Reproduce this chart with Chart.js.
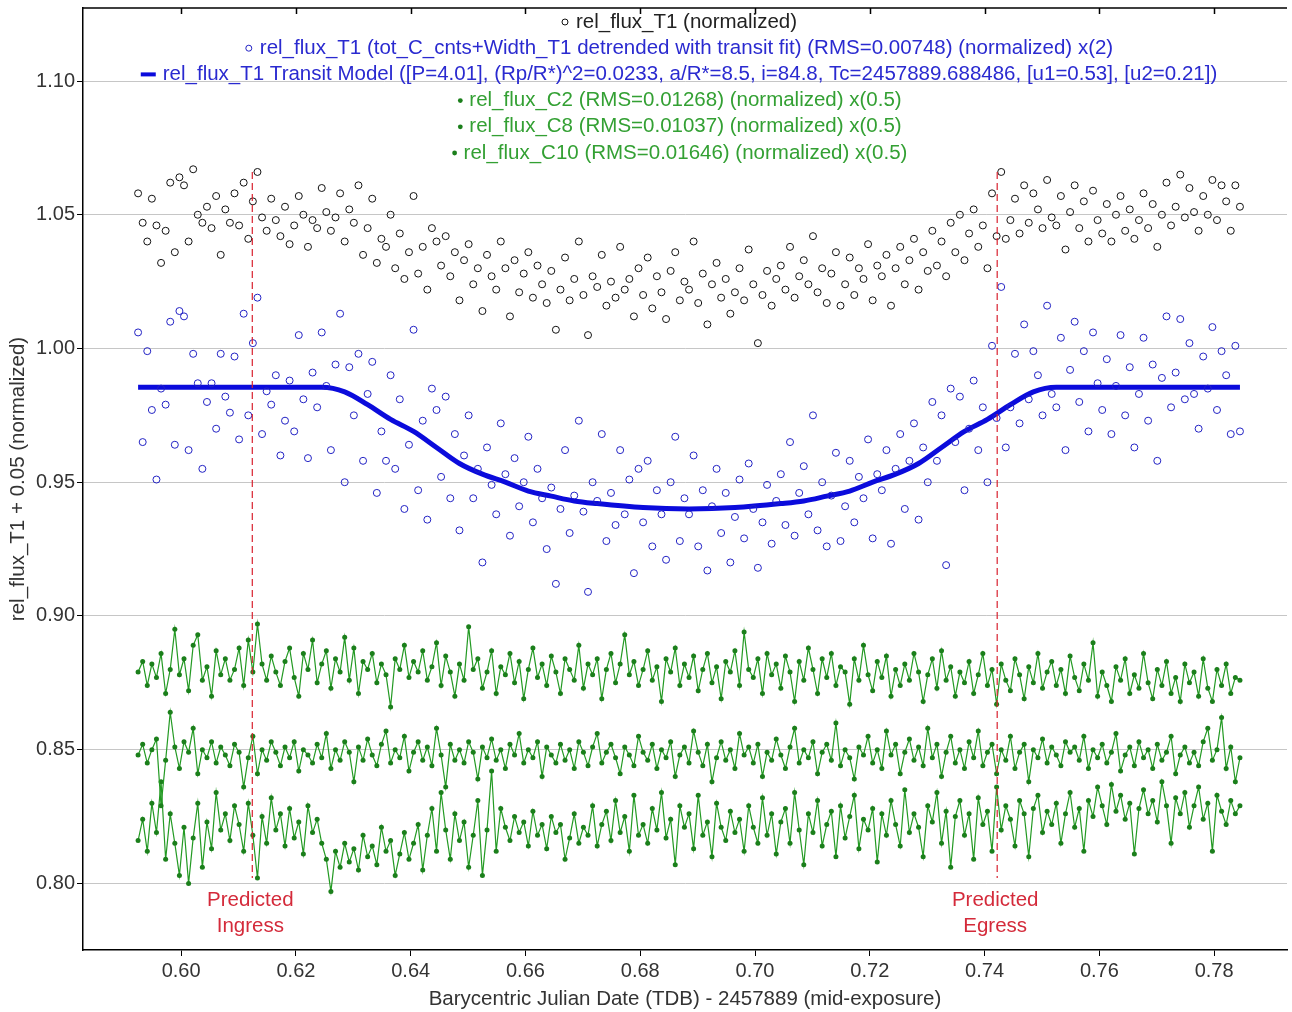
<!DOCTYPE html>
<html>
<head>
<meta charset="utf-8">
<script src="https://cdn.jsdelivr.net/npm/chart.js@4.4.0/dist/chart.umd.min.js"></script>
<style>
    body { margin: 0; background: #fff; }
    canvas { display: block; }
</style>
<title>rel_flux_T1 light curve</title>
</head>
<body>
<canvas id="lightCurve" width="1292" height="1012"></canvas>
<script>
// exposure cadence (days) and first mid-exposure time, BJD - 2457889
const T_START = 0.5925;
const CADENCE = 0.0008;

// rel_flux_T1 (normalized)
const fluxT1 = [
    1.058, 1.047, 1.040, 1.056, 1.046, 1.032, 1.044, 1.062, 1.036, 1.064,
    1.061, 1.040, 1.067, 1.050, 1.047, 1.053, 1.045, 1.057, 1.035, 1.052,
    1.047, 1.058, 1.046, 1.062, 1.041, 1.055, 1.066, 1.049, 1.044, 1.056,
    1.048, 1.042, 1.053, 1.039, 1.046, 1.057, 1.050, 1.038, 1.048, 1.045,
    1.060, 1.051, 1.044, 1.049, 1.058, 1.040, 1.052, 1.047, 1.061, 1.035,
    1.045, 1.056, 1.032, 1.041, 1.038, 1.050, 1.030, 1.043, 1.026, 1.036,
    1.057, 1.028, 1.038, 1.022, 1.045, 1.040, 1.031, 1.042, 1.027, 1.036,
    1.018, 1.033, 1.039, 1.024, 1.030, 1.014, 1.035, 1.027, 1.022, 1.040,
    1.030, 1.012, 1.033, 1.021, 1.028, 1.036, 1.019, 1.031, 1.024, 1.017,
    1.029, 1.007, 1.022, 1.034, 1.018, 1.026, 1.040, 1.020, 1.005, 1.027,
    1.023, 1.035, 1.016, 1.025, 1.019, 1.038, 1.022, 1.026, 1.012, 1.030,
    1.020, 1.034, 1.015, 1.027, 1.021, 1.011, 1.029, 1.036, 1.018, 1.025,
    1.022, 1.040, 1.017, 1.028, 1.009, 1.024, 1.032, 1.019, 1.026, 1.013,
    1.021, 1.030, 1.018, 1.037, 1.024, 1.002, 1.020, 1.029, 1.016, 1.026,
    1.031, 1.022, 1.038, 1.019, 1.027, 1.033, 1.024, 1.042, 1.021, 1.030,
    1.017, 1.028, 1.036, 1.016, 1.024, 1.034, 1.020, 1.030, 1.026, 1.039,
    1.018, 1.031, 1.027, 1.035, 1.016, 1.030, 1.038, 1.024, 1.033, 1.041,
    1.022, 1.036, 1.029, 1.044, 1.031, 1.040, 1.027, 1.047, 1.036, 1.050,
    1.033, 1.043, 1.052, 1.038, 1.046, 1.030, 1.058, 1.042, 1.066, 1.041,
    1.048, 1.056, 1.043, 1.061, 1.047, 1.058, 1.052, 1.045, 1.063, 1.049,
    1.046, 1.057, 1.037, 1.051, 1.061, 1.045, 1.055, 1.040, 1.059, 1.048,
    1.043, 1.054, 1.040, 1.050, 1.057, 1.044, 1.052, 1.041, 1.048, 1.058,
    1.045, 1.054, 1.038, 1.050, 1.062, 1.046, 1.053, 1.065, 1.049, 1.060,
    1.051, 1.044, 1.057, 1.050, 1.063, 1.048, 1.061, 1.055, 1.044, 1.061,
    1.053
];

// rel_flux_T1 detrended, x(2)
const fluxT1Detrended = [
    1.006, 0.965, 0.999, 0.977, 0.951, 0.985, 0.979, 1.010, 0.964, 1.014,
    1.012, 0.962, 0.998, 0.987, 0.955, 0.980, 0.987, 0.970, 0.998, 0.982,
    0.976, 0.997, 0.966, 1.013, 0.975, 1.002, 1.019, 0.968, 0.984, 0.979,
    0.990, 0.960, 0.973, 0.988, 0.969, 1.005, 0.981, 0.959, 0.991, 0.978,
    1.006, 0.986, 0.962, 0.994, 1.013, 0.950, 0.993, 0.975, 0.998, 0.958,
    0.983, 0.995, 0.946, 0.969, 0.958, 0.990, 0.955, 0.981, 0.940, 0.964,
    1.007, 0.947, 0.973, 0.936, 0.985, 0.977, 0.952, 0.982, 0.944, 0.968,
    0.932, 0.960, 0.975, 0.944, 0.955, 0.920, 0.963, 0.949, 0.938, 0.972,
    0.953, 0.930, 0.959, 0.941, 0.950, 0.967, 0.935, 0.955, 0.944, 0.925,
    0.948, 0.912, 0.940, 0.962, 0.931, 0.945, 0.973, 0.939, 0.909, 0.950,
    0.943, 0.968, 0.928, 0.946, 0.934, 0.962, 0.938, 0.951, 0.916, 0.955,
    0.935, 0.958, 0.926, 0.947, 0.938, 0.921, 0.950, 0.967, 0.928, 0.944,
    0.938, 0.960, 0.926, 0.947, 0.917, 0.941, 0.955, 0.931, 0.946, 0.920,
    0.937, 0.951, 0.929, 0.957, 0.940, 0.918, 0.935, 0.949, 0.927, 0.943,
    0.953, 0.934, 0.965, 0.930, 0.946, 0.956, 0.938, 0.975, 0.932, 0.950,
    0.926, 0.945, 0.961, 0.928, 0.941, 0.958, 0.935, 0.952, 0.944, 0.966,
    0.929, 0.953, 0.947, 0.962, 0.927, 0.955, 0.968, 0.940, 0.958, 0.972,
    0.936, 0.963, 0.950, 0.980, 0.958, 0.975, 0.919, 0.985, 0.965, 0.982,
    0.947, 0.970, 0.988, 0.962, 0.978, 0.950, 1.001, 0.974, 1.023, 0.963,
    0.978, 0.998, 0.972, 1.009, 0.981, 0.999, 0.990, 0.975, 1.016, 0.983,
    0.978, 1.004, 0.962, 0.992, 1.010, 0.980, 0.999, 0.969, 1.006, 0.987,
    0.977, 0.996, 0.968, 0.986, 1.005, 0.975, 0.993, 0.963, 0.983, 1.004,
    0.973, 0.994, 0.958, 0.989, 1.012, 0.978, 0.991, 1.011, 0.981, 1.002,
    0.983, 0.970, 0.997, 0.985, 1.008, 0.977, 0.999, 0.990, 0.968, 1.001,
    0.969
];

// transit model
const modelTimes = [
    0.5925, 0.6245, 0.6285, 0.6325, 0.6365, 0.6405, 0.6445, 0.6485, 0.6525, 0.6565,
    0.6605, 0.6645, 0.6685, 0.6725, 0.6805, 0.6885, 0.6965, 0.7045, 0.7085, 0.7125,
    0.7165, 0.7205, 0.7245, 0.7285, 0.7325, 0.7365, 0.7405, 0.7445, 0.7485, 0.7525,
    0.7845
];
const modelFlux = [
    0.9855, 0.9855, 0.9838, 0.979, 0.9735, 0.969, 0.963, 0.957, 0.953, 0.950,
    0.9467, 0.9448, 0.943, 0.942, 0.9405, 0.940, 0.9405, 0.942, 0.943, 0.9448,
    0.9467, 0.950, 0.953, 0.957, 0.963, 0.969, 0.9735, 0.979, 0.9838, 0.9855,
    0.9855
];

// comparison stars, x(0.5)
const fluxC2 = [
    0.879, 0.883, 0.874, 0.882, 0.877, 0.886, 0.871, 0.880, 0.895, 0.878,
    0.884, 0.872, 0.889, 0.893, 0.876, 0.881, 0.870, 0.887, 0.878, 0.884,
    0.876, 0.880, 0.888, 0.874, 0.891, 0.879, 0.897, 0.882, 0.876, 0.885,
    0.879, 0.874, 0.883, 0.888, 0.877, 0.870, 0.886, 0.880, 0.891, 0.875,
    0.882, 0.887, 0.873, 0.884, 0.879, 0.892, 0.876, 0.888, 0.871, 0.883,
    0.880, 0.886, 0.875, 0.882, 0.878, 0.866, 0.884, 0.880, 0.889, 0.877,
    0.883, 0.879, 0.887, 0.876, 0.881, 0.890, 0.874, 0.885, 0.879, 0.870,
    0.882, 0.876, 0.896, 0.880, 0.884, 0.873, 0.879, 0.887, 0.871, 0.881,
    0.878, 0.886, 0.875, 0.883, 0.869, 0.880, 0.888, 0.877, 0.882, 0.874,
    0.885, 0.879, 0.871, 0.884, 0.880, 0.876, 0.889, 0.873, 0.882, 0.878,
    0.884, 0.869, 0.880, 0.886, 0.875, 0.882, 0.893, 0.878, 0.883, 0.874,
    0.880, 0.887, 0.876, 0.881, 0.868, 0.884, 0.879, 0.888, 0.874, 0.882,
    0.877, 0.885, 0.872, 0.880, 0.886, 0.875, 0.881, 0.869, 0.883, 0.879,
    0.887, 0.874, 0.894, 0.880, 0.877, 0.884, 0.871, 0.886, 0.878, 0.882,
    0.873, 0.885, 0.879, 0.868, 0.883, 0.876, 0.888, 0.880, 0.871, 0.884,
    0.877, 0.886, 0.874, 0.881, 0.879, 0.867, 0.884, 0.876, 0.889, 0.878,
    0.872, 0.883, 0.877, 0.885, 0.870, 0.880, 0.874, 0.882, 0.876, 0.886,
    0.879, 0.868, 0.878, 0.884, 0.873, 0.887, 0.876, 0.881, 0.870, 0.879,
    0.875, 0.883, 0.871, 0.878, 0.886, 0.874, 0.880, 0.867, 0.882, 0.876,
    0.872, 0.884, 0.878, 0.869, 0.881, 0.875, 0.886, 0.873, 0.879, 0.883,
    0.874, 0.880, 0.871, 0.885, 0.877, 0.872, 0.882, 0.876, 0.890, 0.870,
    0.879, 0.874, 0.868, 0.881, 0.876, 0.884, 0.871, 0.878, 0.873, 0.886,
    0.875, 0.869, 0.880, 0.874, 0.883, 0.871, 0.877, 0.868, 0.882, 0.875,
    0.879, 0.870, 0.884, 0.873, 0.868, 0.880, 0.874, 0.882, 0.871, 0.877,
    0.876
];
const fluxC8 = [
    0.848, 0.852, 0.845, 0.850, 0.854, 0.829, 0.846, 0.864, 0.851, 0.843,
    0.853, 0.849, 0.858, 0.841, 0.850, 0.847, 0.853, 0.845, 0.851, 0.848,
    0.844, 0.852, 0.849, 0.836, 0.847, 0.855, 0.841, 0.850, 0.846, 0.853,
    0.849, 0.844, 0.851, 0.847, 0.853, 0.842, 0.850, 0.848, 0.845, 0.852,
    0.847, 0.856, 0.843, 0.850, 0.846, 0.853, 0.849, 0.838, 0.851, 0.846,
    0.854, 0.848, 0.844, 0.852, 0.857, 0.845, 0.850, 0.847, 0.855, 0.842,
    0.849, 0.853, 0.846, 0.851, 0.844, 0.858, 0.848, 0.836, 0.852, 0.846,
    0.850, 0.845, 0.853, 0.849, 0.839, 0.851, 0.847, 0.854, 0.846, 0.850,
    0.843, 0.852, 0.848, 0.856, 0.845, 0.850, 0.847, 0.853, 0.840, 0.851,
    0.848, 0.845, 0.852, 0.846, 0.850, 0.843, 0.853, 0.849, 0.844, 0.851,
    0.856, 0.845, 0.849, 0.852, 0.847, 0.841, 0.851, 0.848, 0.844, 0.855,
    0.849, 0.846, 0.852, 0.843, 0.850, 0.847, 0.853, 0.840, 0.848, 0.851,
    0.845, 0.857, 0.849, 0.844, 0.852, 0.838, 0.847, 0.853, 0.846, 0.850,
    0.843, 0.856, 0.848, 0.851, 0.845, 0.852, 0.840, 0.849, 0.846, 0.854,
    0.848, 0.843, 0.851, 0.858, 0.845, 0.850, 0.847, 0.853, 0.841, 0.849,
    0.852, 0.846, 0.860, 0.844, 0.850, 0.847, 0.839, 0.851, 0.848, 0.855,
    0.845, 0.850, 0.843, 0.857, 0.848, 0.852, 0.841, 0.849, 0.854, 0.846,
    0.851, 0.844, 0.858, 0.847, 0.852, 0.840, 0.849, 0.855, 0.845, 0.850,
    0.843, 0.853, 0.847, 0.857, 0.844, 0.849, 0.852, 0.841, 0.850, 0.846,
    0.855, 0.843, 0.849, 0.852, 0.838, 0.850, 0.847, 0.854, 0.845, 0.851,
    0.848, 0.844, 0.853, 0.849, 0.851, 0.846, 0.855, 0.843, 0.850, 0.847,
    0.852, 0.845, 0.849, 0.856, 0.842, 0.848, 0.851, 0.844, 0.853, 0.847,
    0.850, 0.843, 0.852, 0.846, 0.849, 0.855, 0.841, 0.848, 0.851, 0.845,
    0.849, 0.844, 0.853, 0.858, 0.846, 0.850, 0.862, 0.843, 0.851, 0.838,
    0.847
];
const fluxC10 = [
    0.816, 0.824, 0.812, 0.830, 0.819, 0.838, 0.809, 0.826, 0.815, 0.803,
    0.821, 0.800, 0.817, 0.830, 0.806, 0.823, 0.813, 0.834, 0.820, 0.826,
    0.816, 0.829, 0.822, 0.812, 0.830, 0.818, 0.802, 0.825, 0.815, 0.832,
    0.820, 0.826, 0.814, 0.828, 0.817, 0.823, 0.811, 0.829, 0.819, 0.824,
    0.815, 0.809, 0.797, 0.812, 0.806, 0.815, 0.808, 0.813, 0.805, 0.818,
    0.810, 0.814, 0.807, 0.821, 0.812, 0.816, 0.803, 0.811, 0.819, 0.809,
    0.815, 0.822, 0.805, 0.818, 0.828, 0.812, 0.834, 0.820, 0.809, 0.826,
    0.816, 0.823, 0.806, 0.818, 0.831, 0.803, 0.820, 0.842, 0.812, 0.828,
    0.821, 0.816, 0.825, 0.819, 0.823, 0.814, 0.827, 0.818, 0.822, 0.813,
    0.825, 0.819, 0.822, 0.809, 0.817, 0.826, 0.815, 0.821, 0.818, 0.829,
    0.814, 0.822, 0.827, 0.816, 0.831, 0.819, 0.825, 0.812, 0.833, 0.818,
    0.822, 0.815, 0.828, 0.820, 0.834, 0.817, 0.824, 0.807, 0.829, 0.821,
    0.826, 0.813, 0.833, 0.818, 0.823, 0.810, 0.830, 0.821, 0.816, 0.827,
    0.819, 0.824, 0.812, 0.829, 0.821, 0.815, 0.832, 0.818, 0.826, 0.811,
    0.823, 0.828, 0.815, 0.834, 0.820, 0.807, 0.826, 0.819, 0.831, 0.814,
    0.822, 0.827, 0.810, 0.829, 0.817, 0.825, 0.833, 0.813, 0.824, 0.820,
    0.828, 0.808, 0.826, 0.818, 0.831, 0.822, 0.814, 0.835, 0.819, 0.826,
    0.821, 0.810, 0.829, 0.823, 0.834, 0.815, 0.827, 0.806, 0.825, 0.831,
    0.818, 0.826, 0.809, 0.832, 0.822, 0.827, 0.812, 0.836, 0.820, 0.829,
    0.824, 0.814, 0.831, 0.826, 0.810, 0.828, 0.833, 0.819, 0.827, 0.822,
    0.830, 0.815, 0.826, 0.834, 0.821, 0.828, 0.812, 0.831, 0.825, 0.836,
    0.829, 0.822, 0.837, 0.827, 0.833, 0.824, 0.830, 0.811, 0.828, 0.835,
    0.826, 0.831, 0.823, 0.838, 0.829, 0.815, 0.832, 0.826, 0.834, 0.821,
    0.829, 0.836, 0.824, 0.830, 0.812, 0.833, 0.827, 0.822, 0.831, 0.826,
    0.829
];

// predicted ingress / egress
const ingressT = 0.6124;
const egressT = 0.7422;
const markerTop = 1.066;
const markerBottom = 0.802;
const markerLabelY = [0.7936, 0.7839];

const xTicks = [0.60, 0.62, 0.64, 0.66, 0.68, 0.70, 0.72, 0.74, 0.76, 0.78];
const yTicks = [0.80, 0.85, 0.90, 0.95, 1.00, 1.05, 1.10];
const X_MIN = 0.5829, X_MAX = 0.7927;
const Y_MIN = 0.7751, Y_MAX = 1.1273;

const times = fluxT1.map((_, i) => +(T_START + i * CADENCE).toFixed(4));
function pts(values, xs) {
    xs = xs || times;
    return values.map((v, i) => ({ x: xs[i], y: v }));
}

const FONT = '"Liberation Sans", Arial, Helvetica, sans-serif';
const TEXT_SIZE = 20.5;
Chart.defaults.font.family = FONT;

var datasets = [
    {
        label: 'rel_flux_T1 (normalized)',
        data: pts(fluxT1),
        pointRadius: 3.5, pointBorderWidth: 1,
        borderColor: '#111', backgroundColor: 'rgba(0,0,0,0)',
        legendMark: 'circle', legendText: '#222',
        order: 3
    },
    {
        label: 'rel_flux_T1 (tot_C_cnts+Width_T1 detrended with transit fit) (RMS=0.00748) (normalized) x(2)',
        data: pts(fluxT1Detrended),
        pointRadius: 3.5, pointBorderWidth: 1,
        borderColor: '#2222c4', backgroundColor: 'rgba(0,0,0,0)',
        legendMark: 'circle', legendText: '#2a2ad0',
        order: 3
    },
    {
        label: 'rel_flux_T1 Transit Model ([P=4.01], (Rp/R*)^2=0.0233, a/R*=8.5, i=84.8, Tc=2457889.688486, [u1=0.53], [u2=0.21])',
        data: pts(modelFlux, modelTimes),
        showLine: true, borderWidth: 5, pointRadius: 0,
        borderColor: '#0b0bdc', backgroundColor: '#0b0bdc',
        cubicInterpolationMode: 'monotone',
        legendMark: 'dash', legendText: '#2a2ad0',
        order: 4
    }
];

[['rel_flux_C2 (RMS=0.01268) (normalized) x(0.5)', fluxC2],
 ['rel_flux_C8 (RMS=0.01037) (normalized) x(0.5)', fluxC8],
 ['rel_flux_C10 (RMS=0.01646) (normalized) x(0.5)', fluxC10]].forEach(function (c) {
    datasets.push({
        label: c[0],
        data: pts(c[1]),
        showLine: true, borderWidth: 1.2, borderColor: '#239a23',
        pointRadius: 2.5, pointBorderWidth: 0, pointBackgroundColor: '#1b7f1b',
        backgroundColor: '#1b7f1b',
        legendMark: 'dot', legendText: '#33a033',
        order: 2
    });
});

[ingressT, egressT].forEach(function (t) {
    datasets.push({
        label: '',
        data: [{ x: t, y: markerTop }, { x: t, y: markerBottom }],
        showLine: true, borderWidth: 1.2, borderColor: '#d8222f', borderDash: [7, 4],
        pointRadius: 0,
        order: 1
    });
});

// top frame line, inward ticks along top, predicted labels
const framePlugin = {
    id: 'frame',
    afterDraw(chart) {
        const ctx = chart.ctx, a = chart.chartArea;
        const xs = chart.scales.x, ys = chart.scales.y;
        ctx.save();
        ctx.strokeStyle = '#000';
        ctx.lineWidth = 1.5;
        ctx.beginPath();
        ctx.moveTo(a.left, a.top);
        ctx.lineTo(a.right, a.top);
        xTicks.forEach(function (v) {
            const px = Math.round(xs.getPixelForValue(v)) + 0.5;
            ctx.moveTo(px, a.top);
            ctx.lineTo(px, a.top + 6);
        });
        ctx.stroke();

        ctx.fillStyle = '#d42a3a';
        ctx.font = TEXT_SIZE + 'px ' + FONT;
        ctx.textAlign = 'center';
        ctx.textBaseline = 'middle';
        [[ingressT, 'Predicted', 'Ingress'], [egressT, 'Predicted', 'Egress']].forEach(function (m) {
            const px = xs.getPixelForValue(m[0]) - 2;
            ctx.fillText(m[1], px, ys.getPixelForValue(markerLabelY[0]));
            ctx.fillText(m[2], px, ys.getPixelForValue(markerLabelY[1]));
        });
        ctx.restore();
    }
};

// one centred legend row per series, like the original plot
const legendPlugin = {
    id: 'stackedLegend',
    afterDraw(chart) {
        const ctx = chart.ctx, a = chart.chartArea;
        const cx = (a.left + a.right) / 2 - 6;
        ctx.save();
        ctx.font = TEXT_SIZE + 'px ' + FONT;
        ctx.textBaseline = 'middle';
        ctx.textAlign = 'left';
        let row = 0;
        chart.data.datasets.forEach(function (ds) {
            if (!ds.legendMark) return;
            const y = a.top + 14 + row * 26.2;
            const tw = ctx.measureText(ds.label).width;
            const mw = ds.legendMark === 'dash' ? 22 : (ds.legendMark === 'dot' ? 13 : 15);
            const x0 = cx - (tw + mw) / 2;
            ctx.beginPath();
            if (ds.legendMark === 'circle') {
                ctx.strokeStyle = ds.borderColor;
                ctx.lineWidth = 1;
                ctx.arc(x0 + 4, y, 3, 0, Math.PI * 2);
                ctx.stroke();
            } else if (ds.legendMark === 'dot') {
                ctx.fillStyle = ds.pointBackgroundColor;
                ctx.arc(x0 + 4, y, 2.4, 0, Math.PI * 2);
                ctx.fill();
            } else {
                ctx.fillStyle = ds.borderColor;
                ctx.fillRect(x0, y - 2, 15, 4);
            }
            ctx.fillStyle = ds.legendText;
            ctx.fillText(ds.label, x0 + mw, y);
            row++;
        });
        ctx.restore();
    }
};

new Chart(document.getElementById('lightCurve').getContext('2d'), {
    type: 'scatter',
    data: { datasets: datasets },
    options: {
        responsive: false,
        animation: false,
        devicePixelRatio: 1,
        layout: { padding: { top: 8, left: 0, right: 0, bottom: 0 } },
        plugins: { legend: { display: false }, tooltip: { enabled: false } },
        scales: {
            x: {
                type: 'linear', min: X_MIN, max: X_MAX,
                afterBuildTicks: function (s) { s.ticks = xTicks.map(function (v) { return { value: v }; }); },
                afterFit: function (s) { s.height = 62; s.paddingLeft = 0; s.paddingRight = 0; },
                grid: { drawOnChartArea: false, tickLength: 6, tickColor: '#000' },
                border: { color: '#000', width: 1.5 },
                ticks: {
                    color: '#333', font: { size: 20 }, padding: 3, maxRotation: 0, autoSkip: false,
                    callback: function (v) { return Number(v).toFixed(2); }
                },
                title: {
                    display: true, text: 'Barycentric Julian Date (TDB) - 2457889 (mid-exposure)',
                    color: '#333', font: { size: TEXT_SIZE }, padding: { top: 0, bottom: 0 }
                }
            },
            y: {
                type: 'linear', min: Y_MIN, max: Y_MAX,
                afterBuildTicks: function (s) { s.ticks = yTicks.map(function (v) { return { value: v }; }); },
                afterFit: function (s) { s.width = 83; s.paddingTop = 0; s.paddingBottom = 0; },
                grid: { color: '#c6c6c6', lineWidth: 1, tickLength: 6, tickColor: '#000' },
                border: { color: '#000', width: 1.5 },
                ticks: {
                    color: '#333', font: { size: 20 }, padding: 2,
                    callback: function (v) { return Number(v).toFixed(2); }
                },
                title: {
                    display: true, text: 'rel_flux_T1 + 0.05 (normalized)',
                    color: '#333', font: { size: TEXT_SIZE }, padding: { top: 6, bottom: 0 }
                }
            }
        }
    },
    plugins: [framePlugin, legendPlugin]
});
</script>
</body>
</html>
